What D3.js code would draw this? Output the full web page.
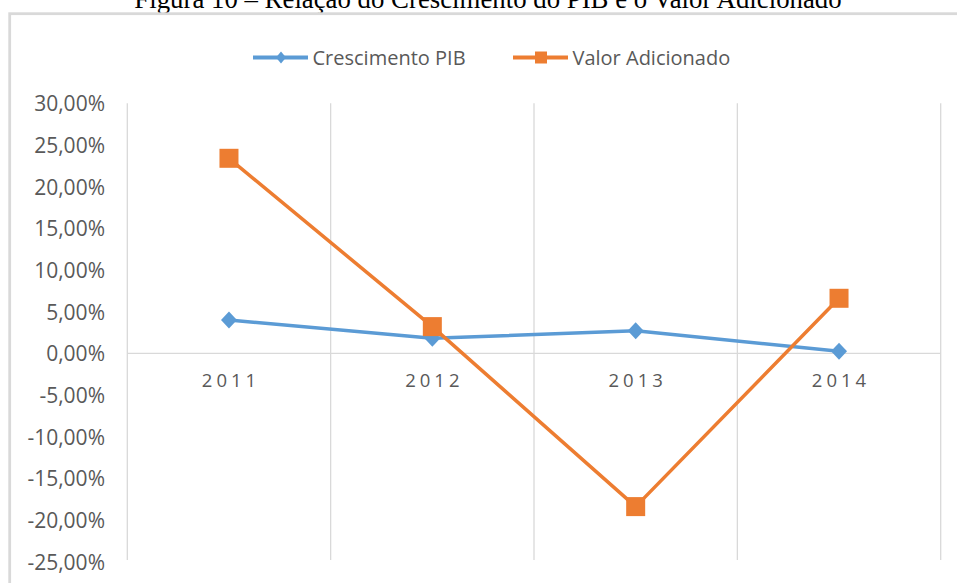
<!DOCTYPE html>
<html>
<head>
<meta charset="utf-8">
<script src="https://cdn.jsdelivr.net/npm/d3@7"></script>
<style>
    body { margin: 0; background: #ffffff; }
    svg { display: block; }
</style>
</head>
<body>
<div id="chart-area"></div>
<script>

// data
let years = ["2011", "2012", "2013", "2014"];
let crescimentoPIB = [4.0, 1.8, 2.7, 0.25];
let valorAdicionado = [23.4, 3.2, -18.4, 6.6];
let yTicks = [30, 25, 20, 15, 10, 5, 0, -5, -10, -15, -20, -25];

let seriesNames = ["Crescimento PIB", "Valor Adicionado"];
let seriesColors = ["#5b9bd5", "#ed7d31"];


/* * * * * * * * * * * * * *
*      class LineVis        *
* * * * * * * * * * * * * */

class LineVis {

    constructor(parentElement){
        this.parentElement = parentElement;
        this.initVis();
    }

    initVis(){
        let vis = this;

        vis.width = 957;
        vis.height = 583;

        vis.svg = d3.select("#" + vis.parentElement).append("svg")
            .attr("width", vis.width)
            .attr("height", vis.height);

        // caption, cut off at the top in the scan
        vis.svg.append("text")
            .attr("x", 488)
            .attr("y", 7.5)
            .attr("text-anchor", "middle")
            .attr("font-family", "'Liberation Serif', 'Times New Roman', serif")
            .attr("font-size", 26.8)
            .attr("fill", "#000")
            .text("Figura 10 – Relação do Crescimento do PIB e o Valor Adicionado");

        // chart frame
        vis.svg.append("rect")
            .attr("x", 9.7)
            .attr("y", 13.7)
            .attr("width", 1000)
            .attr("height", 700)
            .attr("fill", "none")
            .attr("stroke", "#d9d9d9")
            .attr("stroke-width", 2.8);

        vis.x = d3.scaleBand()
            .domain(years)
            .range([127.3, 940.7]);

        vis.y = d3.scaleLinear()
            .domain([-25, 30])
            .range([561.6, 103.3]);

        let br = d3.formatLocale({decimal: ",", thousands: ".", grouping: [3], currency: ["R$", ""], minus: "-"});
        vis.fmt = br.format(".2f");

        vis.wrangleData();
    }

    wrangleData(){
        let vis = this;

        vis.series = [crescimentoPIB, valorAdicionado].map((vals, i) => ({
            name: seriesNames[i],
            color: seriesColors[i],
            values: years.map((yr, j) => ({year: yr, value: vals[j]}))
        }));

        vis.updateVis();
    }

    updateVis(){
        let vis = this;
        let g = vis.svg.append("g");

        // vertical gridlines on category borders
        let borders = years.map(d => vis.x(d)).concat([vis.x.range()[1]]);
        g.selectAll(".vgrid").data(borders).enter().append("line")
            .attr("class", "vgrid")
            .attr("x1", d => d).attr("x2", d => d)
            .attr("y1", vis.y(30)).attr("y2", vis.y(-25) - 1.5)
            .attr("stroke", "#d9d9d9")
            .attr("stroke-width", 1.3);

        // zero line
        g.append("line")
            .attr("x1", vis.x.range()[0]).attr("x2", vis.x.range()[1])
            .attr("y1", vis.y(0)).attr("y2", vis.y(0))
            .attr("stroke", "#d9d9d9")
            .attr("stroke-width", 1.3);

        // y labels
        let yAxis = d3.axisLeft(vis.y)
            .tickValues(yTicks)
            .tickSize(0)
            .tickPadding(0)
            .tickFormat(d => vis.fmt(d) + "%");

        let yg = g.append("g")
            .attr("transform", "translate(105,0)")
            .call(yAxis);
        yg.select(".domain").remove();
        yg.selectAll("text")
            .attr("font-family", "'Open Sans', sans-serif")
            .attr("font-size", 21)
            .attr("fill", "#595959")
            .attr("dy", "0.36em");

        // x labels
        let xAxis = d3.axisBottom(vis.x).tickSize(0).tickPadding(0);
        let xg = g.append("g")
            .attr("transform", "translate(0," + 387 + ")")
            .call(xAxis);
        xg.select(".domain").remove();
        xg.selectAll("text")
            .attr("font-family", "'Open Sans', sans-serif")
            .attr("font-size", 18.5)
            .attr("fill", "#595959")
            .attr("dy", 0)
            .attr("dx", 2)
            .style("letter-spacing", "4px");

        // lines
        let line = d3.line()
            .x(d => vis.x(d.year) + vis.x.bandwidth() / 2)
            .y(d => vis.y(d.value));

        vis.series.forEach((s, i) => {
            g.append("path")
                .datum(s.values)
                .attr("d", line)
                .attr("fill", "none")
                .attr("stroke", s.color)
                .attr("stroke-width", 3.5)
                .attr("stroke-linejoin", "round");

            let pts = g.selectAll(".pt" + i).data(s.values).enter();
            if (i === 0) {
                pts.append("path")
                    .attr("class", "pt" + i)
                    .attr("d", "M0,-8.5L8,0L0,8.5L-8,0Z")
                    .attr("transform", d => "translate(" + (vis.x(d.year) + vis.x.bandwidth() / 2) + "," + vis.y(d.value) + ")")
                    .attr("fill", s.color);
            } else {
                pts.append("rect")
                    .attr("class", "pt" + i)
                    .attr("x", d => vis.x(d.year) + vis.x.bandwidth() / 2 - 9.5)
                    .attr("y", d => vis.y(d.value) - 9.5)
                    .attr("width", 19)
                    .attr("height", 19)
                    .attr("fill", s.color);
            }
        });

        // legend
        let legendX = [253, 513];
        let legend = g.selectAll(".legend").data(vis.series).enter().append("g")
            .attr("class", "legend")
            .attr("transform", (d, i) => "translate(" + legendX[i] + ",57.5)");

        legend.append("line")
            .attr("x1", 0).attr("x2", 55)
            .attr("stroke", d => d.color)
            .attr("stroke-width", 4);

        legend.append("path")
            .attr("d", (d, i) => i === 0 ? "M0,-6L5,0L0,6L-5,0Z" : "M-6,-6H6V6H-6Z")
            .attr("transform", "translate(28,0)")
            .attr("fill", d => d.color);

        legend.append("text")
            .attr("x", 59.5)
            .attr("dy", "0.36em")
            .attr("font-family", "'Open Sans', sans-serif")
            .attr("font-size", 20)
            .attr("fill", "#595959")
            .text(d => d.name);
    }
}

new LineVis("chart-area");

</script>
</body>
</html>
